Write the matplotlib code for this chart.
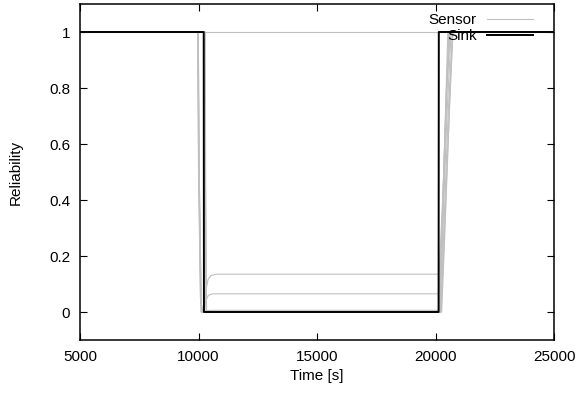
import matplotlib
matplotlib.use("Agg")
import matplotlib.pyplot as plt

plt.rcParams['font.family'] = ['Liberation Sans', 'DejaVu Sans']

# sink reliability over time
sink_t = [5000, 10220, 10230, 20130, 20140, 25000]
sink_v = [1, 1, 0, 0, 1, 1]

# sensor reliability curves (one list per sensor)
sensor_t = [
    [5000, 25000],
    [5000, 9960, 10000, 10080, 10180, 10260, 10320, 10400, 10520, 10750, 20150, 20300, 20480, 20620, 25000],
    [5000, 9970, 10010, 10090, 10180, 10260, 10330, 10420, 10600, 20150, 20290, 20460, 20600, 25000],
    [5000, 9980, 10020, 10100, 10190, 10300, 10500, 20160, 20280, 20440, 20560, 25000],
    [5000, 10270, 10290, 10330, 20170, 20250, 20400, 20520, 25000],
    [5000, 9990, 10030, 10120, 20190, 20290, 20480, 20660, 25000],
    [5000, 10280, 10300, 10340, 20220, 20330, 20540, 20720, 25000],
    [5000, 9980, 10020, 10110, 20240, 20360, 20600, 20740, 25000],
    [5000, 10260, 10280, 10320, 20180, 20270, 20430, 20580, 25000],
    [5000, 9990, 10030, 10120, 20260, 20380, 20600, 20720, 25000],
]
sensor_v = [
    [1, 1],
    [1, 1, 0.5, 0.05, 0.0, 0.03, 0.08, 0.115, 0.13, 0.135, 0.135, 0.4, 0.8, 1, 1],
    [1, 1, 0.5, 0.04, 0.0, 0.02, 0.045, 0.06, 0.065, 0.065, 0.35, 0.78, 1, 1],
    [1, 1, 0.5, 0.03, 0.0, 0.004, 0.006, 0.006, 0.3, 0.75, 1, 1],
    [1, 1, 0.5, 0.0, 0.0, 0.2, 0.65, 1, 1],
    [1, 1, 0.5, 0.0, 0.0, 0.25, 0.7, 1, 1],
    [1, 1, 0.5, 0.0, 0.0, 0.25, 0.72, 1, 1],
    [1, 1, 0.5, 0.0, 0.0, 0.25, 0.75, 1, 1],
    [1, 1, 0.5, 0.0, 0.0, 0.22, 0.68, 1, 1],
    [1, 1, 0.5, 0.0, 0.0, 0.25, 0.75, 1, 1],
]

x_ticks = [5000, 10000, 15000, 20000, 25000]
y_ticks = [0, 0.2, 0.4, 0.6, 0.8, 1]
y_tick_labels = ['0', '0.2', '0.4', '0.6', '0.8', '1']

fig = plt.figure(figsize=(5.79, 3.94), dpi=100)
ax = fig.add_axes([80 / 579, 54 / 394, 474 / 579, 336 / 394])

for i, (t, v) in enumerate(zip(sensor_t, sensor_v)):
    ax.plot(t, v, color='#c0c0c0', lw=0.8, label='Sensor' if i == 0 else None, zorder=2)
ax.plot(sink_t, sink_v, color='black', lw=1.4, label='Sink', zorder=3)

ax.set_xlim(5000, 25000)
ax.set_ylim(-0.1, 1.1)
ax.set_xticks(x_ticks)
ax.set_yticks(y_ticks)
ax.set_yticklabels(y_tick_labels)
ax.tick_params(direction='in', top=True, right=True, length=5, width=0.8,
               labelsize=11, pad=7)
for s in ax.spines.values():
    s.set_linewidth(1.1)

ax.set_xlabel('Time [s]', fontsize=11, labelpad=4)
ax.set_ylabel('Reliability', fontsize=11, labelpad=19)

leg = ax.legend(loc='upper right', bbox_to_anchor=(458 / 474, 1 - 4 / 336),
                markerfirst=False, frameon=False,
                fontsize=11, handlelength=3.0, handletextpad=0.65,
                labelspacing=0.12, borderaxespad=0.0, borderpad=0.35)

fig.savefig('out.png', dpi=100)
